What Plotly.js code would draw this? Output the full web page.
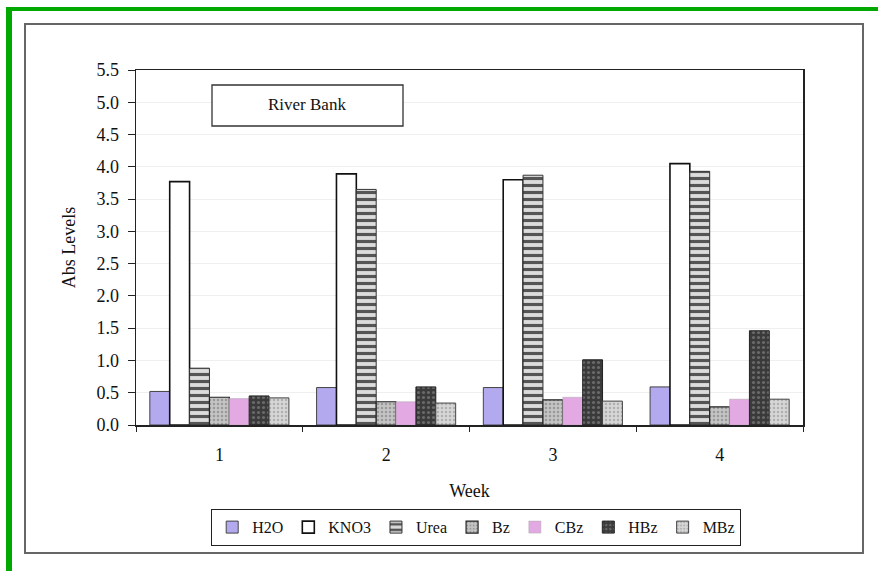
<!DOCTYPE html>
<html>
<head>
<meta charset="utf-8">
<script src="https://cdn.plot.ly/plotly-3.0.1.min.js"></script>
<style>html,body{margin:0;padding:0;background:#fff;}#chart{width:878px;height:571px;}</style>
</head>
<body>
<div id="chart"></div>
<script>
const weeks = ['1', '2', '3', '4'];
const seriesNames = ['H2O', 'KNO3', 'Urea', 'Bz', 'CBz', 'HBz', 'MBz'];
const h2o  = [0.52, 0.58, 0.58, 0.59];
const kno3 = [3.77, 3.89, 3.80, 4.05];
const urea = [0.88, 3.65, 3.87, 3.93];
const bz   = [0.43, 0.36, 0.39, 0.28];
const cbz  = [0.41, 0.36, 0.43, 0.40];
const hbz  = [0.45, 0.59, 1.01, 1.46];
const mbz  = [0.42, 0.34, 0.37, 0.40];
const yTicks = [0, 0.5, 1, 1.5, 2, 2.5, 3, 3.5, 4, 4.5, 5, 5.5];

const values = [h2o, kno3, urea, bz, cbz, hbz, mbz];
const styles = [
  {color: '#b3a9ef', line: {color: '#444', width: 1}},
  {color: '#ffffff', line: {color: '#111', width: 1.6}},
  {color: '#d9d9d9', line: {color: '#333', width: 1}, pattern: {shape: '-', bgcolor: '#dcdcdc', fgcolor: '#555', size: 7, solidity: 0.45}},
  {color: '#bdbdbd', line: {color: '#222', width: 1.2}, pattern: {shape: '.', bgcolor: '#c4c4c4', fgcolor: '#999', size: 4, solidity: 0.3}},
  {color: '#e2a9e2', line: {color: '#aaa', width: 0.5}},
  {color: '#3a3a3a', line: {color: '#222', width: 1}, pattern: {shape: '.', bgcolor: '#3a3a3a', fgcolor: '#6a6a6a', size: 5, solidity: 0.3}},
  {color: '#d4d4d4', line: {color: '#444', width: 1}, pattern: {shape: '.', bgcolor: '#d6d6d6', fgcolor: '#b0b0b0', size: 4, solidity: 0.3}}
];

const traces = seriesNames.map((n, i) => ({
  type: 'bar', name: n, x: weeks, y: values[i],
  marker: styles[i]
}));

// pixel helpers for decoration shapes (plot area: x 136..803, y 70..425)
const L = 136, R = 803, T = 70, B = 425;
const px = v => (v - L) / (R - L);
const py = v => (B - v) / (B - T);

const font = {family: 'Liberation Serif', color: '#111'};
const f = s => Object.assign({size: s}, font);

const layout = {
  width: 878, height: 571,
  margin: {l: L, r: 878 - R, t: T, b: 571 - B},
  paper_bgcolor: '#ffffff',
  plot_bgcolor: 'rgba(0,0,0,0)',
  font: f(16),
  barmode: 'group', bargap: 0.166, bargroupgap: 0,
  showlegend: true,
  legend: {
    orientation: 'h', x: px(211), xanchor: 'left', y: py(509), yanchor: 'top',
    bordercolor: '#222', borderwidth: 1.2, bgcolor: 'rgba(0,0,0,0)',
    font: f(16), itemwidth: 30, tracegroupgap: 0,
    traceorder: 'normal'
  },
  xaxis: {
    type: 'category', showline: true, linecolor: '#222', linewidth: 1.5, mirror: true,
    ticks: 'outside', tickson: 'boundaries', ticklen: 5, tickcolor: '#222',
    ticklabelstandoff: 13,
    tickfont: f(18),
    title: {text: 'Week', font: f(18), standoff: 20}
  },
  yaxis: {
    range: [0, 5.5], tickvals: yTicks, ticktext: yTicks.map(v => v.toFixed(1)),
    showline: true, linecolor: '#222', linewidth: 1.5, mirror: true,
    ticks: 'outside', ticklen: 7, tickcolor: '#222',
    ticklabelstandoff: 5,
    showgrid: true, gridcolor: '#efefef', gridwidth: 1, zeroline: false,
    tickfont: f(18),
    title: {text: 'Abs Levels', font: f(18), standoff: 16}
  },
  shapes: [
    // outer chart frame
    {type: 'rect', xref: 'paper', yref: 'paper', x0: px(25), x1: px(863), y0: py(24), y1: py(553),
      line: {color: '#666', width: 2}, fillcolor: 'rgba(0,0,0,0)', layer: 'below'},
    // green border top and left
    {type: 'rect', xref: 'paper', yref: 'paper', x0: px(6), x1: px(878), y0: py(7), y1: py(11),
      line: {width: 0}, fillcolor: '#00a800'},
    {type: 'rect', xref: 'paper', yref: 'paper', x0: px(6), x1: px(12), y0: py(7), y1: py(571),
      line: {width: 0}, fillcolor: '#00a800'},
    // River Bank box
    {type: 'rect', xref: 'paper', yref: 'paper', x0: px(212), x1: px(403), y0: py(85), y1: py(126),
      line: {color: '#333', width: 1.3}, fillcolor: '#ffffff'}
  ],
  annotations: [
    {xref: 'paper', yref: 'paper', x: px(307), y: py(104), text: 'River Bank', showarrow: false,
      font: f(17), xanchor: 'center', yanchor: 'middle'}
  ]
};

Plotly.newPlot('chart', traces, layout, {displayModeBar: false, staticPlot: true});
</script>
</body>
</html>
